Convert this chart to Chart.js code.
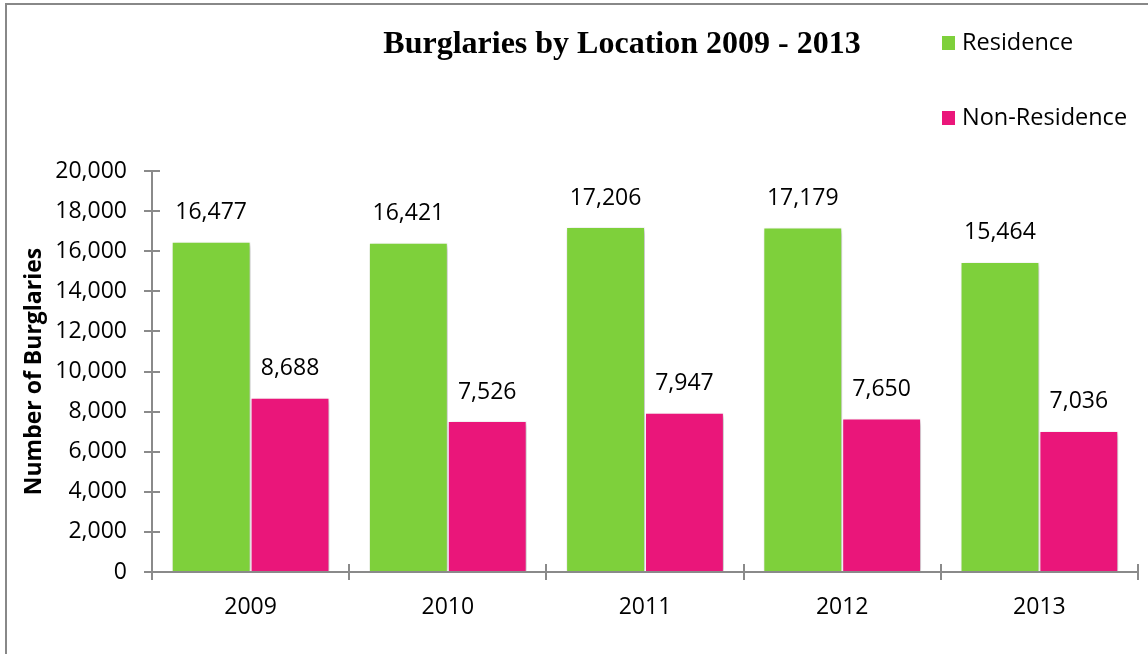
<!DOCTYPE html>
<html>
<head>
<meta charset="utf-8">
<script src="https://cdn.jsdelivr.net/npm/chart.js@4/dist/chart.umd.min.js"></script>
<style>
  html, body { margin: 0; padding: 0; background: #fff; }
  #wrap { width: 1148px; height: 654px; }
</style>
</head>
<body>
<div id="wrap"><canvas id="c" width="1148" height="654"></canvas></div>
<script>
const categories = ['2009', '2010', '2011', '2012', '2013'];
const residence = [16477, 16421, 17206, 17179, 15464];
const nonResidence = [8688, 7526, 7947, 7650, 7036];
const seriesNames = ['Residence', 'Non-Residence'];
const seriesColors = ['#7ED03B', '#EA167A'];
const titleText = 'Burglaries by Location 2009 - 2013';
const yTitleText = 'Number of Burglaries';
const yMin = 0, yMax = 20000, yStep = 2000;

const FONT = "'Open Sans', 'Noto Sans', sans-serif";
const AXIS = '#8a8a8a';
const fmt = v => v.toLocaleString('en-US');

const decorPlugin = {
  id: 'decor',
  beforeDraw(chart) {
    const ctx = chart.ctx;
    ctx.save();
    ctx.fillStyle = '#fff';
    ctx.fillRect(0, 0, chart.width, chart.height);
    ctx.strokeStyle = '#888';
    ctx.lineWidth = 2;
    ctx.strokeRect(6, 4, chart.width + 100, chart.height + 100);
    ctx.restore();
  },
  beforeDatasetsDraw(chart) {
    const ctx = chart.ctx;
    ctx.save();
    ctx.shadowColor = 'rgba(0,0,0,0.28)';
    ctx.shadowBlur = 5;
    ctx.shadowOffsetX = 2;
    ctx.shadowOffsetY = 2;
  },
  afterDatasetsDraw(chart) {
    const ctx = chart.ctx;
    ctx.restore();
    // value labels
    ctx.save();
    ctx.font = '23px ' + FONT;
    ctx.fillStyle = '#000';
    ctx.textAlign = 'center';
    ctx.textBaseline = 'middle';
    chart.data.datasets.forEach((ds, di) => {
      chart.getDatasetMeta(di).data.forEach((bar, i) => {
        ctx.fillText(fmt(ds.data[i]), bar.x, bar.y - 29);
      });
    });
    ctx.restore();
  },
  afterDraw(chart) {
    const ctx = chart.ctx;
    const xs = chart.scales.x, ys = chart.scales.y;
    const a = chart.chartArea;
    ctx.save();
    // inward halves of tick marks (ticks cross the axes)
    ctx.strokeStyle = AXIS;
    ctx.lineWidth = 2;
    ctx.beginPath();
    ys.ticks.forEach((t, i) => {
      const y = Math.round(ys.getPixelForTick(i));
      ctx.moveTo(a.left, y); ctx.lineTo(a.left + 8, y);
    });
    const n = categories.length;
    for (let i = 0; i <= n; i++) {
      const x = Math.round(a.left + (a.right - a.left) * i / n);
      ctx.moveTo(x, a.bottom); ctx.lineTo(x, a.bottom - 8);
    }
    ctx.stroke();
    // title
    ctx.fillStyle = '#000';
    ctx.font = "bold 32px 'Liberation Serif', 'Times New Roman', serif";
    ctx.textAlign = 'center';
    ctx.textBaseline = 'middle';
    ctx.fillText(titleText, 622, 45);
    // legend
    ctx.font = '23.5px ' + FONT;
    ctx.textAlign = 'left';
    const legendY = [43, 118];
    chart.data.datasets.forEach((ds, i) => {
      ctx.fillStyle = ds.backgroundColor;
      ctx.fillRect(942, legendY[i] - 7, 13, 14);
      ctx.fillStyle = '#000';
      ctx.fillText(ds.label, 962, legendY[i]);
    });
    ctx.restore();
  }
};

new Chart(document.getElementById('c'), {
  type: 'bar',
  data: {
    labels: categories,
    datasets: [
      { label: seriesNames[0], data: residence, backgroundColor: seriesColors[0],
        borderColor: 'rgba(255,255,255,0.7)', borderWidth: 1 },
      { label: seriesNames[1], data: nonResidence, backgroundColor: seriesColors[1],
        borderColor: 'rgba(255,255,255,0.7)', borderWidth: 1 }
    ]
  },
  options: {
    responsive: false,
    devicePixelRatio: 1,
    animation: false,
    layout: { padding: { top: 171, left: 0, right: 10, bottom: 0 } },
    datasets: { bar: { categoryPercentage: 0.8, barPercentage: 1.0 } },
    plugins: {
      legend: { display: false },
      title: { display: false },
      tooltip: { enabled: false }
    },
    scales: {
      x: {
        offset: true,
        grid: { display: true, drawOnChartArea: false, drawTicks: true, tickLength: 8,
                color: AXIS, lineWidth: 2, offset: true },
        border: { display: true, color: AXIS, width: 2 },
        ticks: { color: '#000', font: { family: FONT, size: 23 }, padding: 14 },
        afterFit(scale) { scale.height = 82; }
      },
      y: {
        min: yMin, max: yMax,
        grid: { display: true, drawOnChartArea: false, drawTicks: true, tickLength: 8,
                color: AXIS, lineWidth: 2 },
        border: { display: true, color: AXIS, width: 2 },
        ticks: { stepSize: yStep, color: '#000', font: { family: FONT, size: 23 }, padding: 17,
                 callback: v => fmt(v) },
        title: { display: true, text: yTitleText, color: '#000',
                 font: { family: FONT, size: 23, weight: 'bold' }, padding: { top: 21, bottom: 0 } },
        afterFit(scale) { scale.width = 152; }
      }
    }
  },
  plugins: [decorPlugin]
});
</script>
</body>
</html>
